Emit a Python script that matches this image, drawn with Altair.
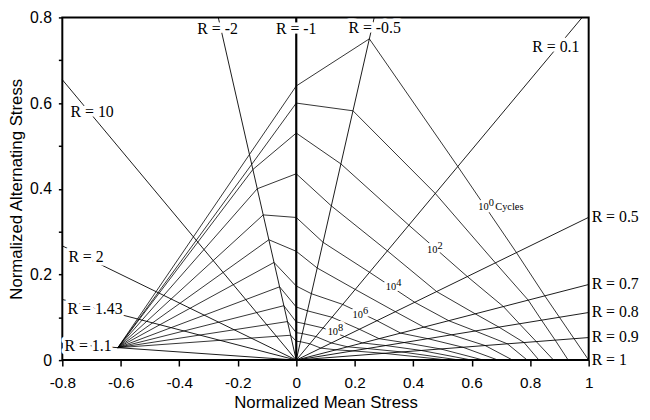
import altair as alt
import pandas as pd

# ---------------- data ----------------
x_ticks = [-0.8, -0.6, -0.4, -0.2, 0, 0.2, 0.4, 0.6, 0.8, 1]
y_ticks = [0, 0.1, 0.2, 0.3, 0.4, 0.5, 0.6, 0.7, 0.8]

# stress-ratio rays drawn from the origin
ray_R = [1.1, 1.43, 2, 10, -2, -1, -0.5, 0.1, 0.5, 0.7, 0.8, 0.9]

# constant-life curves, one per decade of cycles (10^0 ... 10^10)
life_exp = [0, 1, 2, 3, 4, 5, 6, 7, 8, 9, 10]
# all compression curves meet at this point on the R = 1.1 ray
conv_sm = -0.61
conv_sa = 0.029
# rays that every curve has a vertex on, and the alternating stress there
curve_R = [-2, -1, -0.5, 0.1, 0.5, 0.7, 0.8, 0.9]
sa_Rm2  = [0.480, 0.457, 0.445, 0.400, 0.339, 0.281, 0.228, 0.171, 0.127, 0.090, 0.058]
sa_Rm1  = [0.640, 0.600, 0.530, 0.435, 0.333, 0.254, 0.173, 0.124, 0.089, 0.064, 0.044]
sa_Rm05 = [0.750, 0.582, 0.458, 0.360, 0.275, 0.215, 0.155, 0.115, 0.085, 0.062, 0.043]
sa_R01  = [0.452, 0.389, 0.315, 0.255, 0.205, 0.165, 0.130, 0.100, 0.075, 0.055, 0.038]
sa_R05  = [0.251, 0.227, 0.195, 0.160, 0.135, 0.113, 0.092, 0.072, 0.055, 0.040, 0.028]
sa_R07  = [0.150, 0.140, 0.125, 0.108, 0.092, 0.077, 0.063, 0.050, 0.040, 0.031, 0.024]
sa_R08  = [0.100, 0.0932, 0.0848, 0.077, 0.068, 0.059, 0.050, 0.041, 0.034, 0.027, 0.0215]
sa_R09  = [0.050, 0.0466, 0.0432, 0.041, 0.038, 0.034, 0.030, 0.026, 0.0225, 0.019, 0.0158]
# mean stress where each curve reaches R = 1 (zero alternating stress)
end_sm  = [1.00, 0.93, 0.88, 0.83, 0.79, 0.74, 0.69, 0.64, 0.60, 0.56, 0.52]

# labels of the rays
ray_lab_in_text = ["R = -2", "R = -1", "R = -0.5", "R = 0.1", "R = 10", "R = 2", "R = 1.43", "R = 1.1"]
ray_lab_in_sm   = [-0.269, 0.0, 0.268, 0.888, -0.698, -0.719, -0.688, -0.712]
ray_lab_in_sa   = [0.773, 0.773, 0.775, 0.730, 0.580, 0.240, 0.120, 0.032]
ray_lab_out_text = ["R = 0.5", "R = 0.7", "R = 0.8", "R = 0.9", "R = 1"]
ray_lab_out_R    = [0.5, 0.7, 0.8, 0.9, 1.0]

# cycle labels on the curves
cyc_exp = ["0", "2", "4", "6", "8"]
cyc_sm  = [0.640, 0.465, 0.324, 0.210, 0.125]
cyc_sa  = [0.358, 0.256, 0.171, 0.106, 0.065]

# ---------------- build tables ----------------
def sm_on_ray(R, sa):
    return sa * (1 + R) / (1 - R)

sa_cols = [sa_Rm2, sa_Rm1, sa_Rm05, sa_R01, sa_R05, sa_R07, sa_R08, sa_R09]
rows = []
for i, n in enumerate(life_exp):
    pts = [(conv_sm, conv_sa)]
    for R, col in zip(curve_R, sa_cols):
        pts.append((sm_on_ray(R, col[i]), col[i]))
    pts.append((end_sm[i], 0.0))
    for j, (m, a) in enumerate(pts):
        rows.append({"N": n, "idx": j, "sm": m, "sa": a})
curves = pd.DataFrame(rows)

ray_rows = []
for R in ray_R:
    if R == -1:
        m1, a1 = 0.0, 0.8
    else:
        k = (1 - R) / (1 + R)
        if k < 0:
            m1 = max(-0.8, 0.8 / k)
        else:
            m1 = min(1.0, 0.8 / k)
        a1 = k * m1
    ray_rows.append({"R": R, "m0": 0.0, "a0": 0.0, "m1": m1, "a1": a1})
rays = pd.DataFrame(ray_rows)
rays_thin = rays[rays.R != -1]
rays_thick = rays[rays.R == -1]

lab_in = pd.DataFrame({"t": ray_lab_in_text, "sm": ray_lab_in_sm, "sa": ray_lab_in_sa})
lab_out = pd.DataFrame({"t": ray_lab_out_text, "sm": [1.0] * len(ray_lab_out_R),
                        "sa": [(1 - R) / (1 + R) for R in ray_lab_out_R]})
cyc = pd.DataFrame({"e": cyc_exp, "sm": cyc_sm, "sa": cyc_sa, "b": ["10"] * len(cyc_exp)})
cyc_word = cyc[cyc.e == "0"].assign(w="Cycles")

# ---------------- encodings ----------------
xs = alt.Scale(domain=[-0.8, 1], nice=False, zero=False)
ys = alt.Scale(domain=[0, 0.8], nice=False, zero=False)
xax = alt.Axis(
    values=x_ticks,
    labelExpr="datum.value == 0 ? '0' : datum.value == 1 ? '1' : (datum.value < 0 ? '-' : '') + format(abs(datum.value), '.1f')",
    title="Normalized Mean Stress", grid=False, domain=False,
    tickSize=6, tickColor="black", tickWidth=1.5,
    labelFont="Liberation Sans", labelFontSize=15.5, labelColor="black", labelPadding=10,
    titleFont="Liberation Sans", titleFontSize=17, titleFontWeight="normal", titleColor="black",
    titleBaseline="alphabetic", titleY=48, titleX=266.5, labelFlush=False,
)
yax = alt.Axis(
    values=y_ticks,
    labelExpr="datum.value == 0 ? '0' : (round(datum.value * 10) % 2 == 0 ? format(datum.value, '.1f') : '')",
    title="Normalized Alternating Stress", grid=False, domain=False,
    tickSize=4, tickColor="black", tickWidth=1.5,
    labelFont="Liberation Sans", labelFontSize=16, labelColor="black", labelPadding=7,
    titleFont="Liberation Sans", titleFontSize=17, titleFontWeight="normal", titleColor="black",
    titleBaseline="alphabetic", titleX=-41, titleY=173.5, labelFlush=False,
)

def X(f):
    return alt.X(f, type="quantitative", scale=xs, axis=xax)

def Y(f):
    return alt.Y(f, type="quantitative", scale=ys, axis=yax)

curve_layer = alt.Chart(curves).mark_line(color="black", strokeWidth=0.8).encode(
    x=X("sm"), y=Y("sa"), detail="N:N", order="idx:Q")

ray_layer = alt.Chart(rays_thin).mark_rule(color="black", strokeWidth=0.9).encode(
    x=X("m0"), y=Y("a0"), x2="m1", y2="a1")

ray_thick = alt.Chart(rays_thick).mark_rule(color="black", strokeWidth=2.2).encode(
    x=X("m0"), y=Y("a0"), x2="m1", y2="a1")

serif = "Liberation Serif"
halo_in = alt.Chart(lab_in).mark_text(font=serif, fontSize=16, color="white", stroke="white",
                                      strokeWidth=7, strokeJoin="round", baseline="middle").encode(
    x=X("sm"), y=Y("sa"), text="t:N")
text_in = alt.Chart(lab_in).mark_text(font=serif, fontSize=16, color="black", baseline="middle").encode(
    x=X("sm"), y=Y("sa"), text="t:N")
text_out = alt.Chart(lab_out).mark_text(font=serif, fontSize=16, color="black", baseline="middle",
                                        align="left", dx=3).encode(
    x=X("sm"), y=Y("sa"), text="t:N")

halo_b = alt.Chart(cyc).mark_text(font=serif, fontSize=10.5, color="white", stroke="white",
                                  strokeWidth=6, strokeJoin="round", baseline="middle").encode(
    x=X("sm"), y=Y("sa"), text="b:N")
halo_e = alt.Chart(cyc).mark_text(font=serif, fontSize=10.5, color="white", stroke="white",
                                  strokeWidth=6, strokeJoin="round", baseline="middle", dx=8, dy=-4).encode(
    x=X("sm"), y=Y("sa"), text="e:N")
halo_w = alt.Chart(cyc_word).mark_text(font=serif, fontSize=10.5, color="white", stroke="white",
                                       strokeWidth=6, strokeJoin="round", baseline="middle", align="left", dx=12).encode(
    x=X("sm"), y=Y("sa"), text="w:N")
text_b = alt.Chart(cyc).mark_text(font=serif, fontSize=10.5, color="black", baseline="middle").encode(
    x=X("sm"), y=Y("sa"), text="b:N")
text_e = alt.Chart(cyc).mark_text(font=serif, fontSize=10.5, color="black", baseline="middle", dx=8, dy=-4).encode(
    x=X("sm"), y=Y("sa"), text="e:N")
text_w = alt.Chart(cyc_word).mark_text(font=serif, fontSize=10.5, color="black", baseline="middle",
                                       align="left", dx=12).encode(
    x=X("sm"), y=Y("sa"), text="w:N")

chart = alt.layer(
    curve_layer, ray_layer, ray_thick,
    halo_in, halo_b, halo_e, halo_w,
    text_in, text_out, text_b, text_e, text_w,
).properties(
    width=533, height=347,
    padding={"left": 55, "top": 7, "right": 54, "bottom": 49},
    autosize=alt.AutoSizeParams(type="none"),
    background="white",
).configure_view(stroke="black", strokeWidth=2)

chart.save("out.html", embed_options={"renderer": "svg", "actions": False})
